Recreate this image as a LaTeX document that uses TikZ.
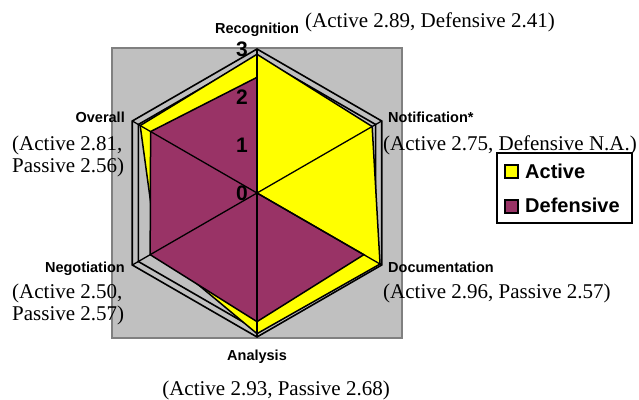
\documentclass[tikz,border=0pt]{standalone}
\usepackage{fontspec}
\setmainfont{Liberation Serif}
\setsansfont{Liberation Sans}
\definecolor{plotgrey}{HTML}{C0C0C0}
\definecolor{frame}{HTML}{808080}
\definecolor{activefill}{HTML}{FFFF00}
\definecolor{defensivefill}{HTML}{993366}
\begin{document}
\begin{tikzpicture}[x=1pt,y=-1pt,
  catlab/.style={inner sep=0pt,font=\sffamily\bfseries\fontsize{14.5}{17}\selectfont},
  vallab/.style={inner sep=0pt,font=\fontsize{21}{22}\selectfont,align=left},
  axnum/.style={inner sep=0pt,anchor=east,font=\sffamily\bfseries\fontsize{21}{22}\selectfont},
  legtext/.style={inner sep=0pt,anchor=base west,font=\sffamily\bfseries\fontsize{20}{22}\selectfont},
  ring/.style={draw=black,line width=1.6pt,line join=miter},
  series/.style={draw=black,line width=1.5pt,line join=miter},
  spoke/.style={draw=black,line width=1.3pt}]
\useasboundingbox (0,0) rectangle (639,399);
\fill[white] (0,0) rectangle (639,399);

% plot area
\draw[draw=frame,fill=plotgrey,line width=1.6pt] (112,48) rectangle (402,338);

% radar axes: name/angle
\coordinate (c) at (257,193);
\foreach \n/\a in {rec/90,noti/30,doc/-30,ana/-90,neg/210,ove/150}{
  \coordinate (o-\n) at ({257+144*cos(\a)},{193-144*sin(\a)});
  \coordinate (i-\n) at ({257+137*cos(\a)},{193-137*sin(\a)});
}
% Active series values
\foreach \n/\a/\v in {rec/90/2.89,noti/30/2.77,doc/-30/2.96,ana/-90/2.93,neg/210/2.40,ove/150/2.81}{
  \coordinate (a-\n) at ({257+48*\v*cos(\a)},{193-48*\v*sin(\a)});
}
% Defensive series values
\foreach \n/\a/\v in {rec/90/2.41,noti/30/0,doc/-30/2.57,ana/-90/2.68,neg/210/2.57,ove/150/2.56}{
  \coordinate (d-\n) at ({257+48*\v*cos(\a)},{193-48*\v*sin(\a)});
}

% outer gridlines
\draw[ring] (o-rec) -- (o-noti) -- (o-doc) -- (o-ana) -- (o-neg) -- (o-ove) -- cycle;
\draw[ring] (i-rec) -- (i-noti) -- (i-doc) -- (i-ana) -- (i-neg) -- (i-ove) -- cycle;

% data areas
\draw[series,fill=activefill] (a-rec) -- (a-noti) -- (a-doc) -- (a-ana) -- (a-neg) -- (a-ove) -- cycle;
\draw[series,fill=defensivefill] (d-rec) -- (d-noti) -- (d-doc) -- (d-ana) -- (d-neg) -- (d-ove) -- cycle;

% spokes
\foreach \n in {rec,noti,doc,ana,neg,ove}{
  \draw[spoke] (c) -- (o-\n);
}

% value axis numbers
\node[axnum] (n3) at (248,49) {3};
\node[axnum] (n2) at (248,97) {2};
\node[axnum] (n1) at (248,145) {1};
\node[axnum] (n0) at (248,193) {0};

% category labels
\node[catlab,anchor=base] (l-rec) at (257,33) {Recognition};
\node[catlab,anchor=base west] (l-noti) at (388,122) {Notification*};
\node[catlab,anchor=base west] (l-doc) at (388,272) {Documentation};
\node[catlab,anchor=base] (l-ana) at (257,360) {Analysis};
\node[catlab,anchor=base east] (l-neg) at (125,272) {Negotiation};
\node[catlab,anchor=base east] (l-ove) at (125,122) {Overall};

% score annotations
\node[vallab,anchor=base west] (v-rec) at (305,27) {(Active 2.89, Defensive 2.41)};
\node[vallab,anchor=base west] (v-noti) at (383,150) {(Active 2.75, Defensive N.A.)};
\node[vallab,anchor=base west] (v-doc) at (383,298) {(Active 2.96, Passive 2.57)};
\node[vallab,anchor=base] (v-ana) at (276,395) {(Active 2.93, Passive 2.68)};
\node[vallab,anchor=base west] (v-ove) at (12,172) {(Active 2.81,\\Passive 2.56)};
\node[vallab,anchor=base west] (v-neg) at (12,320) {(Active 2.50,\\Passive 2.57)};

% legend
\draw[draw=black,fill=white,line width=1.6pt] (497,153) rectangle (632,223);
\draw[draw=black,fill=activefill,line width=1.3pt] (505,165) rectangle (518,178);
\draw[draw=black,fill=defensivefill,line width=1.3pt] (505,200) rectangle (518,213);
\node[legtext] (leg-a) at (525,178) {Active};
\node[legtext] (leg-d) at (525,212) {Defensive};
\end{tikzpicture}
\end{document}
